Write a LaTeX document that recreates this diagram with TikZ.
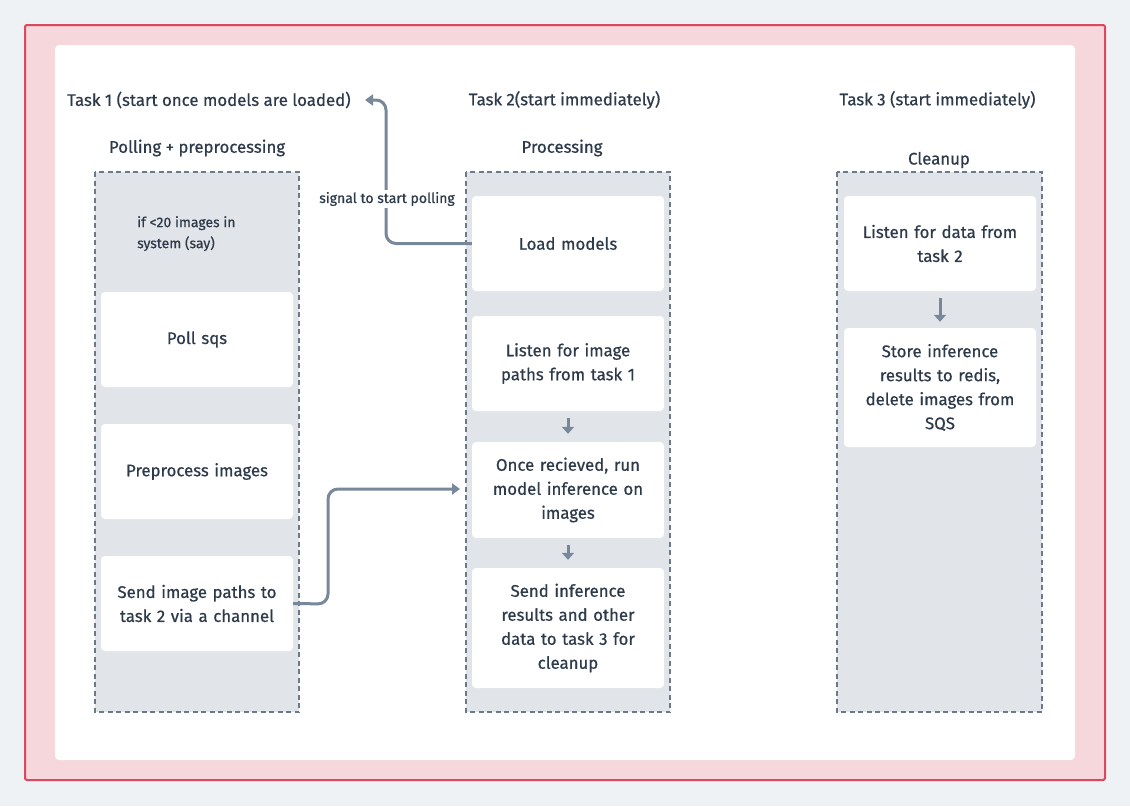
\documentclass[tikz,border=0pt]{standalone}
\usepackage{fontspec}
\setmainfont{Fira Sans}[UprightFeatures={FakeBold=0.6}]
\usetikzlibrary{arrows.meta}
\definecolor{pagebg}{HTML}{EEF2F5}
\definecolor{redfill}{HTML}{F6D7DB}
\definecolor{redline}{HTML}{D9485F}
\definecolor{colfill}{HTML}{E1E5E9}
\definecolor{colline}{HTML}{6B7A8A}
\definecolor{txt}{HTML}{2D3A4A}
\definecolor{conn}{HTML}{77889A}
\tikzset{
  lane/.style={draw=colline, fill=colfill, dash pattern=on 5pt off 3.5pt, line width=1.3pt},
  card/.style={fill=white, draw=none, rounded corners=4pt, text=txt, align=center, font=\fontsize{16.8}{24}\selectfont, text width=185pt},
  heading/.style={text=txt, font=\fontsize{16.8}{20}\selectfont, inner sep=0pt},
  conline/.style={draw=conn, line width=3pt, rounded corners=10pt, -{Triangle[length=8pt,width=11pt]}},
  smallarrow/.style={draw=conn, line width=3pt, -{Triangle[length=7pt,width=12pt]}},
}
\begin{document}
\begin{tikzpicture}[x=1pt,y=-1pt]
\fill[pagebg] (0,0) rectangle (1130,806);
\useasboundingbox (0,0) rectangle (1130,806);
\filldraw[fill=redfill, draw=redline, line width=2pt, rounded corners=2pt] (25,25) rectangle (1105,780);
\fill[white, rounded corners=4pt] (55,45) rectangle (1075,760);

% headings
\node[heading, anchor=west] (h1) at (67,100) {Task 1 (start once models are loaded)};
\node[heading] (h2) at (564.5,100) {Task 2(start immediately)};
\node[heading] (h3) at (937.5,100) {Task 3 (start immediately)};
\node[heading] (s1) at (197,148) {Polling + preprocessing};
\node[heading] (s2) at (562,148) {Processing};
\node[heading] (s3) at (939,160) {Cleanup};

% lanes
\draw[lane] (95,172) rectangle (299,712);
\draw[lane] (466,172) rectangle (670,712);
\draw[lane] (837,172) rectangle (1042,712);

\node[text=txt, align=left, anchor=north west, font=\fontsize{14}{21}\selectfont, inner sep=0pt] (cond) at (137,216) {if <20 images in\\system (say)};

% lane 1 cards
\node[card, minimum width=192pt, minimum height=95pt] (poll) at (197,339.5) {Poll sqs};
\node[card, minimum width=192pt, minimum height=95pt] (prep) at (197,471.5) {Preprocess images};
\node[card, minimum width=192pt, minimum height=95pt] (send) at (197,603.5) {Send image paths to\\task 2 via a channel};

% lane 2 cards
\node[card, minimum width=192pt, minimum height=95pt] (load) at (568,243.5) {Load models};
\node[card, minimum width=192pt, minimum height=95pt] (listen) at (568,363.5) {Listen for image\\paths from task 1};
\node[card, minimum width=192pt, minimum height=96pt] (infer) at (568,490) {Once recieved, run\\model inference on\\images};
\node[card, minimum width=192pt, minimum height=120pt] (sendres) at (568,628) {Send inference\\results and other\\data to task 3 for\\cleanup};

% lane 3 cards
\node[card, minimum width=192pt, minimum height=95pt] (listen3) at (940,243.5) {Listen for data from\\task 2};
\node[card, minimum width=192pt, minimum height=119pt] (store) at (940,387.5) {Store inference\\results to redis,\\delete images from\\SQS};

% small arrows
\draw[smallarrow] ([yshift=-7pt]listen.south) -- ([yshift=8pt]infer.north);
\draw[smallarrow] ([yshift=-7pt]infer.south) -- ([yshift=8pt]sendres.north);
\draw[smallarrow] ([yshift=-7pt]listen3.south) -- ([yshift=6pt]store.north);

% connectors
\coordinate (sigend) at (365,100);
\draw[conline] (load.west) -| (386,100) -- (sigend);
\node[fill=white, text=txt, font=\fontsize{14}{16}\selectfont, inner sep=2pt] (siglbl) at (387,199) {signal to start polling};
\coordinate (chanend) at (460,489);
\draw[conline] (send.east) -- (328,604) -- (328,489) -- (chanend);
\end{tikzpicture}
\end{document}
